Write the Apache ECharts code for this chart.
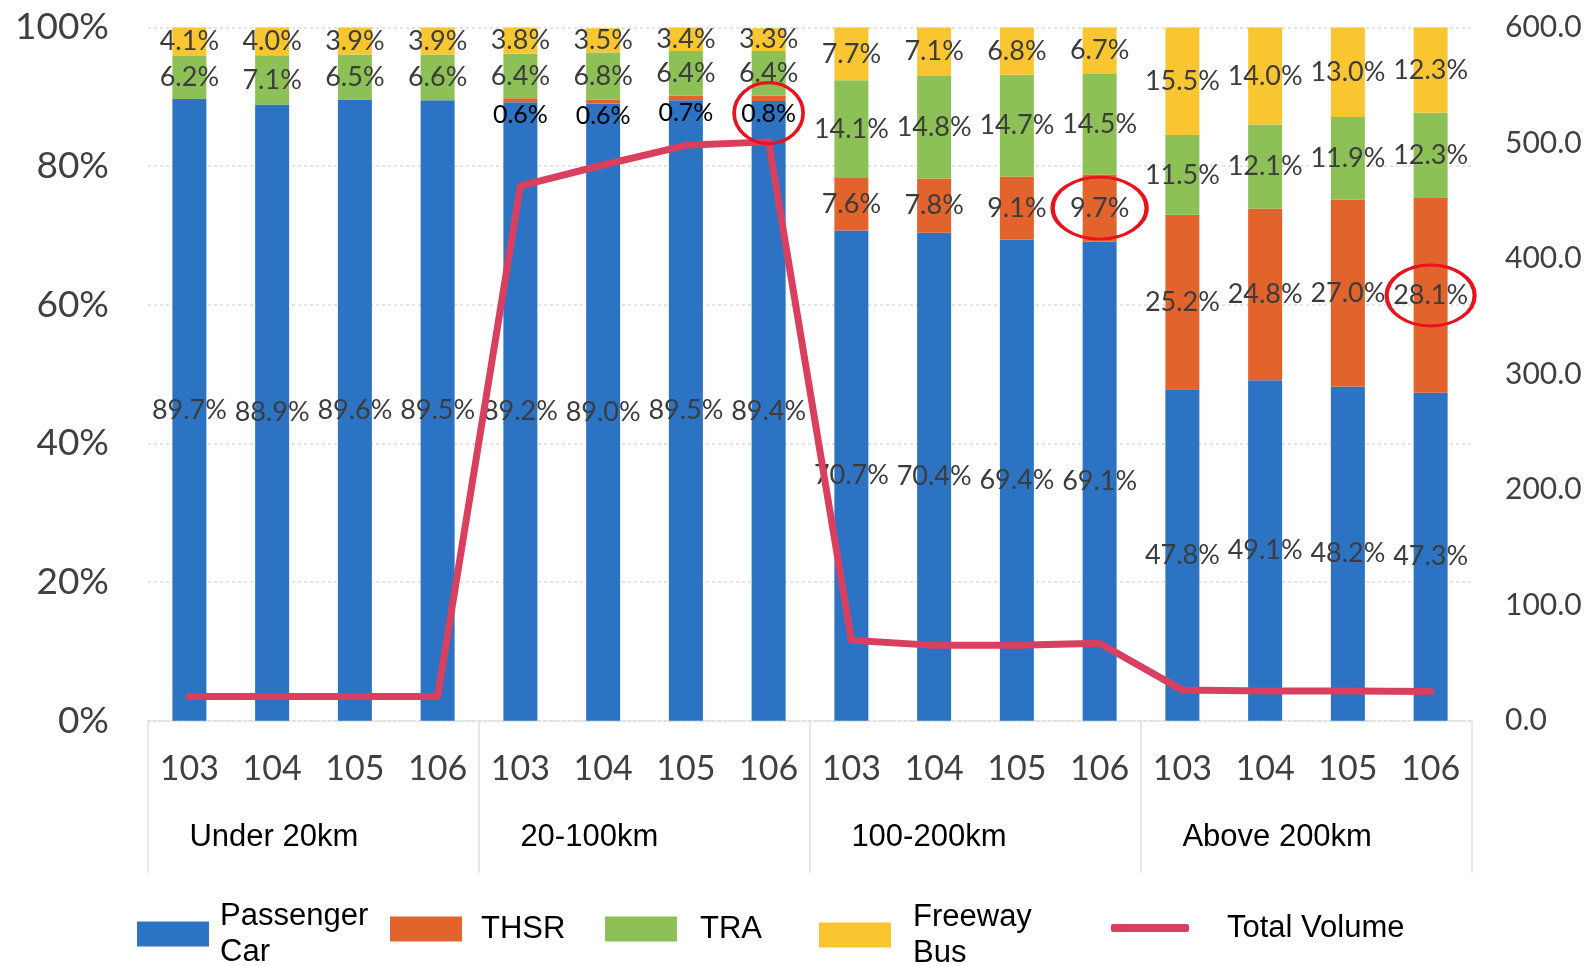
<!DOCTYPE html>
<html>
<head>
<meta charset="utf-8">
<title>Modal share by trip distance</title>
<script src="https://cdn.jsdelivr.net/npm/echarts@6/dist/echarts.min.js"></script>
<style>
  html, body { margin: 0; padding: 0; background: #ffffff; }
  #chart { width: 1596px; height: 966px; }
</style>
</head>
<body>
<div id="chart"></div>
<script>
// Distance bands and survey years (ROC calendar)
const groups = ['Under 20km', '20-100km', '100-200km', 'Above 200km'];
const years = ['103', '104', '105', '106'];

// Mode shares (%) per band and year
const carShare  = [89.7, 88.9, 89.6, 89.5,  89.2, 89.0, 89.5, 89.4,  70.7, 70.4, 69.4, 69.1,  47.8, 49.1, 48.2, 47.3];
const thsrShare = [0, 0, 0, 0,              0.6, 0.6, 0.7, 0.8,      7.6, 7.8, 9.1, 9.7,      25.2, 24.8, 27.0, 28.1];
const traShare  = [6.2, 7.1, 6.5, 6.6,      6.4, 6.8, 6.4, 6.4,      14.1, 14.8, 14.7, 14.5,  11.5, 12.1, 11.9, 12.3];
const busShare  = [4.1, 4.0, 3.9, 3.9,      3.8, 3.5, 3.4, 3.3,      7.7, 7.1, 6.8, 6.7,      15.5, 14.0, 13.0, 12.3];

// Total trip volume (right axis)
const totalVolume = [21, 21, 21, 21,  463, 481, 498, 501,  69.6, 65.2, 65.2, 67,  26.5, 25.8, 25.6, 25.2];

// Axis tick values
const shareTicks = { min: 0, max: 100, step: 20 };
const volumeTicks = { min: 0, max: 600, step: 100 };

// Highlighted THSR values (category index)
const highlighted = [7, 11, 15];

const categories = [];
const bandOfCategory = [];
groups.forEach(g => years.forEach(y => { categories.push(y); bandOfCategory.push(g); }));

const COLORS = {
  car: '#2C74C3',
  thsr: '#E2642C',
  tra: '#8DC057',
  bus: '#F9C631',
  volume: '#D93F5E',
  ring: '#E8131C'
};
const LABEL_FONT = 'Lato, "Open Sans", sans-serif';
const PLAIN_FONT = '"Liberation Sans", Arial, sans-serif';

const pct = p => (p.value > 0 ? p.value.toFixed(1) + '%' : '');

const segLabel = {
  show: true,
  position: 'inside',
  formatter: pct,
  fontFamily: LABEL_FONT,
  fontSize: 27,
  color: '#3c3c3c'
};

// THSR in the 20-100km band is too thin to hold its label: place it under the segment
const thsrData = thsrShare.map((v, i) => {
  if (bandOfCategory[i] === '20-100km') {
    return {
      value: v,
      label: { position: 'bottom', distance: 0, color: '#000000', fontSize: 25, fontFamily: LABEL_FONT }
    };
  }
  return v;
});

// Rings around the highlighted THSR labels
const ringData = highlighted.map((idx, k) => {
  const inBandTwo = bandOfCategory[idx] === '20-100km';
  const y = inBandTwo ? carShare[idx] - 1.75 : carShare[idx] + thsrShare[idx] / 2;
  const sizes = [[69, 61], [94, 62], [88, 61]];
  return { coord: [idx, y], symbolSize: sizes[k] };
});

const barBase = {
  type: 'bar',
  stack: 'share',
  barWidth: 34,
  xAxisIndex: 0,
  yAxisIndex: 0,
  label: segLabel,
  emphasis: { disabled: true }
};

const legendBase = {
  orient: 'horizontal',
  padding: 0,
  itemWidth: 72,
  itemHeight: 25,
  icon: 'rect',
  selectedMode: false,
  textStyle: { fontFamily: PLAIN_FONT, fontSize: 31, color: '#000000', lineHeight: 36 }
};
function legendAt(name, left, top, gap, extra) {
  return Object.assign({}, legendBase, {
    data: [name],
    left: left,
    top: top,
    formatter: n => (n === 'Total Volume' ? n : n.replace(' ', '\n')),
    textStyle: Object.assign({}, legendBase.textStyle, { padding: [0, 0, 0, gap - 5] })
  }, extra || {});
}

const chart = echarts.init(document.getElementById('chart'), null, { renderer: 'canvas' });

chart.setOption({
  backgroundColor: '#ffffff',
  animation: false,
  grid: { left: 148, right: 124, top: 27.5, bottom: 245.3, containLabel: false },
  legend: [
    legendAt('Passenger Car', 137, 898, 11),
    legendAt('THSR', 390, 911, 19),
    legendAt('TRA', 605, 911, 23),
    legendAt('Freeway Bus', 819, 899, 22),
    legendAt('Total Volume', 1111, 910, 38, { itemWidth: 78, itemHeight: 8, icon: 'roundRect' })
  ],
  xAxis: [
    {
      type: 'category',
      data: categories,
      position: 'bottom',
      axisLine: { show: true, lineStyle: { color: '#dedede', width: 1.5, type: [3, 2] } },
      axisTick: { show: false },
      axisLabel: {
        interval: 0,
        margin: 31,
        fontFamily: LABEL_FONT,
        fontSize: 34,
        color: '#404040'
      },
      splitLine: { show: false }
    },
    {
      type: 'category',
      data: bandOfCategory,
      position: 'bottom',
      offset: 0,
      axisLine: { show: false },
      axisTick: {
        show: true,
        interval: i => i % 4 === 0,
        length: 152,
        lineStyle: { color: '#e0e0e0', width: 1.5 }
      },
      axisLabel: {
        interval: i => i % 4 === 0,
        align: 'left',
        margin: 101,
        fontFamily: PLAIN_FONT,
        fontSize: 31,
        color: '#000000',
        formatter: v => (v === '20-100km' ? '{shift|' + v + '}' : v),
        rich: {
          shift: { fontFamily: PLAIN_FONT, fontSize: 31, color: '#000000', padding: [0, 0, 0, 0] }
        }
      },
      splitLine: { show: false }
    }
  ],
  yAxis: [
    {
      type: 'value',
      min: shareTicks.min,
      max: shareTicks.max,
      interval: shareTicks.step,
      axisLine: { show: false },
      axisTick: { show: false },
      axisLabel: {
        formatter: '{value}%',
        margin: 39,
        fontFamily: LABEL_FONT,
        fontSize: 37,
        color: '#404040'
      },
      splitLine: { show: true, lineStyle: { color: '#e4e4e4', width: 2, type: [3, 3] } }
    },
    {
      type: 'value',
      position: 'right',
      min: volumeTicks.min,
      max: volumeTicks.max,
      interval: volumeTicks.step,
      axisLine: { show: false },
      axisTick: { show: false },
      axisLabel: {
        formatter: v => v.toFixed(1),
        margin: 33,
        fontFamily: LABEL_FONT,
        fontSize: 30,
        color: '#404040'
      },
      splitLine: { show: false }
    }
  ],
  series: [
    Object.assign({}, barBase, { name: 'Passenger Car', data: carShare, itemStyle: { color: COLORS.car } }),
    Object.assign({}, barBase, {
      name: 'THSR',
      data: thsrData,
      itemStyle: { color: COLORS.thsr },
      markPoint: {
        symbol: 'circle',
        silent: true,
        label: { show: false },
        itemStyle: { color: 'rgba(0,0,0,0)', borderColor: COLORS.ring, borderWidth: 3.5 },
        data: ringData,
        z: 10
      }
    }),
    Object.assign({}, barBase, { name: 'TRA', data: traShare, itemStyle: { color: COLORS.tra } }),
    Object.assign({}, barBase, { name: 'Freeway Bus', data: busShare, itemStyle: { color: COLORS.bus } }),
    {
      name: 'Total Volume',
      type: 'line',
      xAxisIndex: 0,
      yAxisIndex: 1,
      data: totalVolume,
      showSymbol: false,
      symbol: 'none',
      z: 5,
      lineStyle: { color: COLORS.volume, width: 7, join: 'round', cap: 'round' },
      itemStyle: { color: COLORS.volume },
      emphasis: { disabled: true }
    }
  ]
});
</script>
</body>
</html>
